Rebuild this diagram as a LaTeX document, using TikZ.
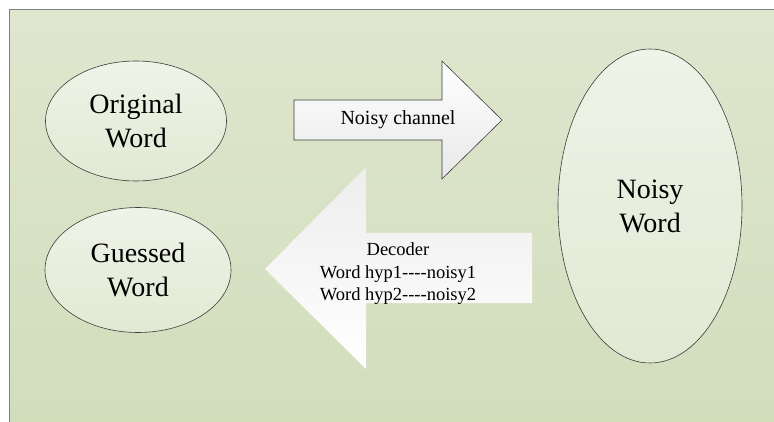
\documentclass[tikz,border=0pt]{standalone}
\usepackage{fontspec}
\setmainfont{Liberation Serif}
\usetikzlibrary{shapes.geometric, positioning}

\definecolor{bgtop}{RGB}{223,230,206}
\definecolor{bgbot}{RGB}{208,221,187}
\definecolor{elltop}{RGB}{239,243,232}
\definecolor{ellbot}{RGB}{225,233,211}
\definecolor{edge}{RGB}{60,60,60}
\newcommand{\hyps}{-\kern0pt-\kern0pt-\kern0pt-}

\begin{document}
\begin{tikzpicture}[x=1pt, y=-1pt,
    word/.style={ellipse, draw=edge, line width=0.6pt, top color=elltop,
        bottom color=ellbot, align=center, inner sep=0pt,
        font=\fontsize{28}{34}\selectfont},
    label/.style={align=center, inner sep=0pt}]
\useasboundingbox (0,0) rectangle (774,422);
% background panel
\shade[top color=bgtop, bottom color=bgbot, draw=gray, line width=1pt]
    (9,10) rectangle (800,450);

\node[word, minimum width=181, minimum height=120] (orig) at (136,121) {Original\\Word};
\node[word, minimum width=186, minimum height=125] (guess) at (138,270) {Guessed\\Word};
\node[word, minimum width=184, minimum height=314] (noisy) at (650,206) {Noisy\\Word};

% block arrows
\shade[top color=white, bottom color=black!9, draw=edge, line width=0.6pt]
    (294,100) -- (442,100) -- (442,61) -- (502,120) -- (442,179)
    -- (442,140) -- (294,140) -- cycle;
\shade[top color=black!7, bottom color=white]
    (532,233) -- (366,233) -- (366,167) -- (265,269) -- (366,369)
    -- (366,303) -- (532,303) -- cycle;

\node[label, font=\fontsize{20}{24}\selectfont] (chan) at (398,120) {Noisy channel};
\node[label, font=\fontsize{18.5}{22.5}\selectfont] (dec) at (398,274)
    {Decoder\\Word hyp1\hyps noisy1\\Word hyp2\hyps noisy2};
\end{tikzpicture}
\end{document}
